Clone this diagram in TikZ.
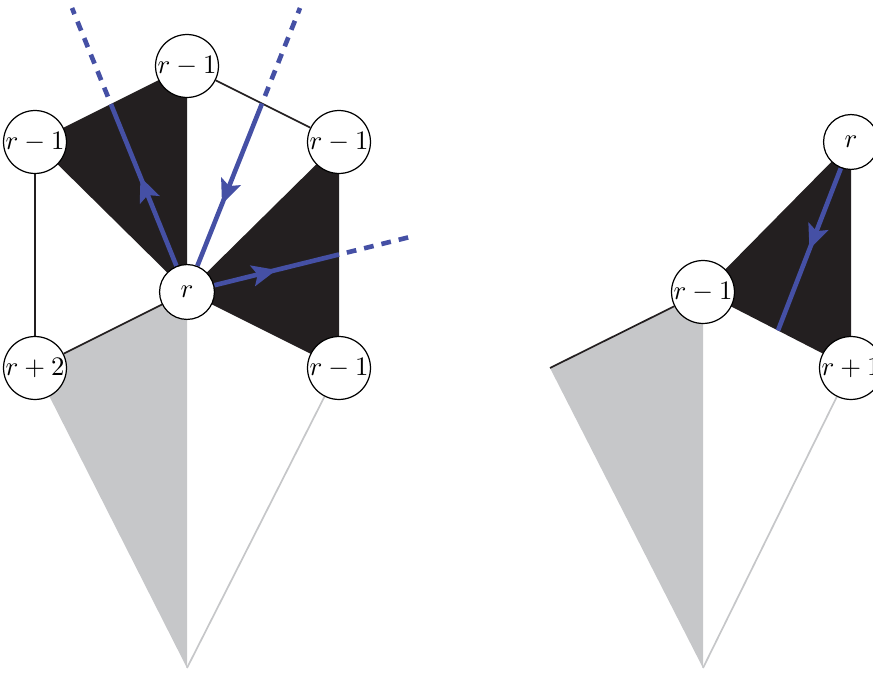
\documentclass[tikz,border=0pt]{standalone}
\usetikzlibrary{arrows.meta,decorations.markings,backgrounds}
\definecolor{tileblack}{HTML}{231F20}
\definecolor{tilegray}{HTML}{C6C7C9}
\definecolor{tileblue}{HTML}{4550A5}
\begin{document}
\begin{tikzpicture}[x=0.41pt, y=-0.41pt, font=\fontsize{11}{13}\selectfont,
  vtx/.style={draw, circle, fill=white, inner sep=0.2pt, minimum size=22.5pt, line width=0.5pt},
  edge/.style={line width=0.7pt, tileblack},
  faint/.style={line width=0.7pt, tilegray},
  flow/.style={line width=1.9pt, tileblue, postaction={decorate},
               decoration={markings, mark=at position #1 with {\arrow{Stealth[length=10pt,width=8.5pt,inset=2pt]}}}},
  ghost/.style={line width=1.9pt, tileblue, dash pattern=on 4pt off 3.3pt, dash phase=4pt}
]
  \useasboundingbox (0,0) rectangle (873,673);
  % left hexagon
  \node[vtx] (c)  at (187,292) {$r$};
  \node[vtx] (t)  at (187,66)  {$r-1$};
  \node[vtx] (ul) at (35,142)  {$r-1$};
  \node[vtx] (ur) at (339,142) {$r-1$};
  \node[vtx] (ll) at (35,368)  {$r+2$};
  \node[vtx] (lr) at (339,368) {$r-1$};
  \coordinate (bot) at (187,668);
  \coordinate (e1) at (110.9,104.1);
  \coordinate (e2) at (262,103.5);
  \coordinate (e3) at (339,254.5);
  \coordinate (d1) at (72,8);
  \coordinate (d2) at (300,8);
  \coordinate (d3) at (410,237);
  % right piece
  \node[vtx] (rt) at (851,142) {$r$};
  \node[vtx] (rm) at (703,292) {$r-1$};
  \node[vtx] (rb) at (851,368) {$r+1$};
  \coordinate (rl)   at (550,368);
  \coordinate (rbot) at (703,668);
  \coordinate (e4)   at (778,330.5);
  \begin{pgfonlayer}{background}
    \fill[tileblack] (t.center) -- (ul.center) -- (c.center) -- cycle;
    \fill[tileblack] (c.center) -- (ur.center) -- (lr.center) -- cycle;
    \fill[tilegray]  (ll.center) -- (c.center) -- (bot) -- cycle;
    \fill[tileblack] (rt.center) -- (rm.center) -- (rb.center) -- cycle;
    \fill[tilegray]  (rl) -- (rm.center) -- (rbot) -- cycle;
    \draw[edge] (t) -- (ur);
    \draw[edge] (ul) -- (ll);
    \draw[edge] (ll) -- (c);
    \draw[edge] (rl) -- (rm);
    \draw[faint] (lr) -- (bot);
    \draw[faint] (rb) -- (rbot);
    % blue paths
    \draw[flow=0.55] (c) -- (e1);
    \draw[ghost] (e1) -- (d1);
    \draw[ghost] (e2) -- (d2);
    \draw[flow=0.62] (e2) -- (c);
    \draw[flow=0.5] (c) -- (e3);
    \draw[ghost] (e3) -- (d3);
    \draw[flow=0.5] (rt) -- (e4);
  \end{pgfonlayer}
\end{tikzpicture}
\end{document}
